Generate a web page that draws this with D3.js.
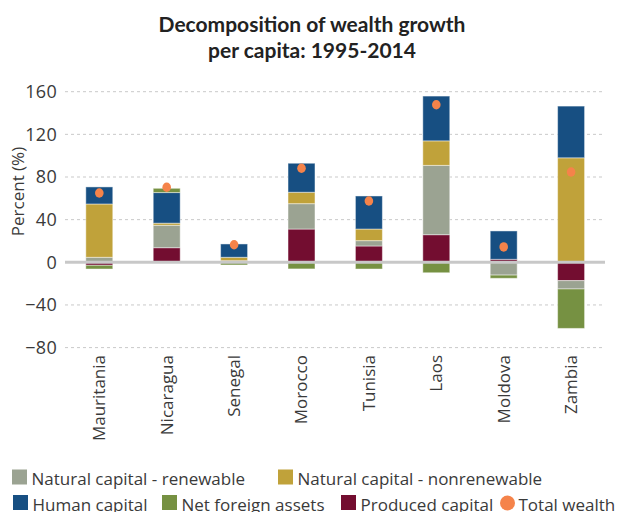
<!DOCTYPE html>
<html>
<head>
<meta charset="utf-8">
<script src="https://cdn.jsdelivr.net/npm/d3@7"></script>
<style>
    body { margin: 0; background: #ffffff; }
    text { font-family: "Open Sans", "Lato", sans-serif; fill: #3a3a3a; }
</style>
</head>
<body>
<div id="chart"></div>
<script>
///////////////////////////////////////////////////////////////////////////////////////////////////

var countries    = ["Mauritania", "Nicaragua", "Senegal", "Morocco", "Tunisia", "Laos", "Moldova", "Zambia"];
var produced     = [-2.8, 13.7,  0.0, 31.2, 15.3, 25.9,   2.8, -17.2];
var renewable    = [ 4.7, 21.0,  1.5, 23.8,  5.0, 65.0, -12.0,  -7.8];
var nonrenewable = [50.0,  2.0,  3.2, 10.7, 10.9, 23.0,   0.0,  98.0];
var human        = [16.0, 28.7, 12.5, 27.2, 31.0, 42.0,  26.6,  48.5];
var net_foreign  = [-3.5,  4.0, -2.5, -6.2, -6.3, -9.8,  -3.0, -37.0];
var total_wealth = [65.0, 70.4, 16.5, 88.2, 57.5, 147.8, 14.4,  84.7];
var y_ticks      = [-80, -40, 0, 40, 80, 120, 160];

///////////////////////////////////////////////////////////////////////////////////////////////////

function draw_chart(element_id) {

    var svg_width = 618, svg_height = 512;
    var margin = { top: 91.7, right: 13, bottom: 164.4, left: 65.6 };

    var series = [
        { key: "produced",     label: "Produced capital",               color: "#730d30", values: produced },
        { key: "renewable",    label: "Natural capital - renewable",    color: "#9ba392", values: renewable },
        { key: "nonrenewable", label: "Natural capital - nonrenewable", color: "#c0a23a", values: nonrenewable },
        { key: "human",        label: "Human capital",                  color: "#174f82", values: human },
        { key: "net_foreign",  label: "Net foreign assets",             color: "#769142", values: net_foreign }
    ];
    var dot_color = "#f5834a";

    // table for the stack
    var table = countries.map(function(c, i) {
        var row = { country: c };
        series.forEach(function(s) { row[s.key] = s.values[i]; });
        return row;
    });

    var stacked = d3.stack()
        .keys(series.map(function(s) { return s.key; }))
        .offset(d3.stackOffsetDiverging)(table);

    var svg = d3.select('#' + element_id)
      .append("svg")
        .attr("width",  svg_width)
        .attr("height", svg_height);

    var x = d3.scaleBand()
        .domain(countries)
        .range([margin.left, 604.8])
        .paddingInner(0.6)
        .paddingOuter(0.3);

    var y = d3.scaleLinear()
        .domain([-80, 160])
        .range([svg_height - margin.bottom, margin.top]);

    // title
    var title = svg.append("text")
        .attr("text-anchor", "middle")
        .style("font-family", "Lato, sans-serif")
        .style("font-weight", "bold")
        .style("font-size", "21px")
        .style("fill", "#222");
    title.append("tspan").attr("x", 312).attr("y", 32).text("Decomposition of wealth growth");
    title.append("tspan").attr("x", 312).attr("y", 58).text("per capita: 1995-2014");

    // dotted grid lines
    svg.append("g")
        .selectAll("line")
        .data(y_ticks.filter(function(d) { return d !== 0; }))
        .join("line")
            .attr("x1", 65)
            .attr("x2", 605)
            .attr("y1", function(d) { return y(d); })
            .attr("y2", function(d) { return y(d); })
            .attr("stroke", "#c9c9c9")
            .attr("stroke-width", 1)
            .attr("stroke-dasharray", "3,3");

    // y axis labels
    var y_axis = svg.append("g")
        .attr("transform", "translate(65,0)")
        .call(d3.axisLeft(y).tickValues(y_ticks).tickSize(0).tickPadding(8));
    y_axis.select(".domain").remove();
    y_axis.selectAll("text")
        .style("font-family", "\"Open Sans\", sans-serif")
        .style("font-size", "18px")
        .style("letter-spacing", "0.3px")
        .style("fill", "#3a3a3a");

    svg.append("text")
        .attr("transform", "translate(18," + 191.5 + ") rotate(-90)")
        .attr("text-anchor", "middle")
        .attr("dy", "0.35em")
        .style("font-size", "17px")
        .text("Percent (%)");

    // stacked bars
    svg.append("g")
        .selectAll("g")
        .data(stacked)
        .join("g")
            .attr("fill", function(d, i) { return series[i].color; })
        .selectAll("rect")
        .data(function(d) { return d; })
        .join("rect")
            .attr("x", function(d) { return x(d.data.country); })
            .attr("width", x.bandwidth())
            .attr("y", function(d) { return y(Math.max(d[0], d[1])); })
            .attr("height", function(d) { return Math.abs(y(d[0]) - y(d[1])); })
            .attr("stroke", "#ffffff")
            .attr("stroke-opacity", 0.45)
            .attr("stroke-width", 1);

    // zero line
    svg.append("line")
        .attr("x1", 65)
        .attr("x2", 605)
        .attr("y1", y(0))
        .attr("y2", y(0))
        .attr("stroke", "#c8c8c8")
        .attr("stroke-width", 3);

    // total wealth dots
    svg.append("g")
        .selectAll("ellipse")
        .data(total_wealth)
        .join("ellipse")
            .attr("cx", function(d, i) { return x(countries[i]) + x.bandwidth() / 2; })
            .attr("cy", function(d) { return y(d); })
            .attr("rx", 4.3)
            .attr("ry", 4.7)
            .attr("fill", dot_color);

    // country labels
    svg.append("g")
        .selectAll("text")
        .data(countries)
        .join("text")
            .attr("transform", function(d) {
                return "translate(" + (x(d) + x.bandwidth() / 2) + ",355) rotate(-90)";
            })
            .attr("text-anchor", "end")
            .attr("dy", "0.35em")
            .style("font-size", "17px")
            .text(function(d) { return d; });

    // legend
    var legend_items = [
        { label: series[1].label, color: series[1].color, x: 12,  y: 469.5, shape: "rect" },
        { label: series[2].label, color: series[2].color, x: 278, y: 469.5, shape: "rect" },
        { label: series[3].label, color: series[3].color, x: 13,  y: 495,   shape: "rect" },
        { label: series[4].label, color: series[4].color, x: 162, y: 495,   shape: "rect" },
        { label: series[0].label, color: series[0].color, x: 341, y: 495,   shape: "rect" },
        { label: "Total wealth",  color: dot_color,       x: 500, y: 495,   shape: "circle" }
    ];

    var legend = svg.append("g")
        .selectAll("g")
        .data(legend_items)
        .join("g")
            .attr("transform", function(d) { return "translate(" + d.x + "," + d.y + ")"; });

    legend.filter(function(d) { return d.shape === "rect"; })
        .append("rect")
            .attr("width", 15)
            .attr("height", 15)
            .attr("fill", function(d) { return d.color; });

    legend.filter(function(d) { return d.shape === "circle"; })
        .append("circle")
            .attr("cx", 7.5)
            .attr("cy", 8)
            .attr("r", 7.5)
            .attr("fill", function(d) { return d.color; });

    legend.append("text")
        .attr("x", function(d) { return d.shape === "circle" ? 18.5 : 19.5; })
        .attr("y", 15.5)
        .style("font-size", "17px")
        .text(function(d) { return d.label; });

} // end function

///////////////////////////////////////////////////////////////////////////////////////////////////

draw_chart("chart");
</script>
</body>
</html>
